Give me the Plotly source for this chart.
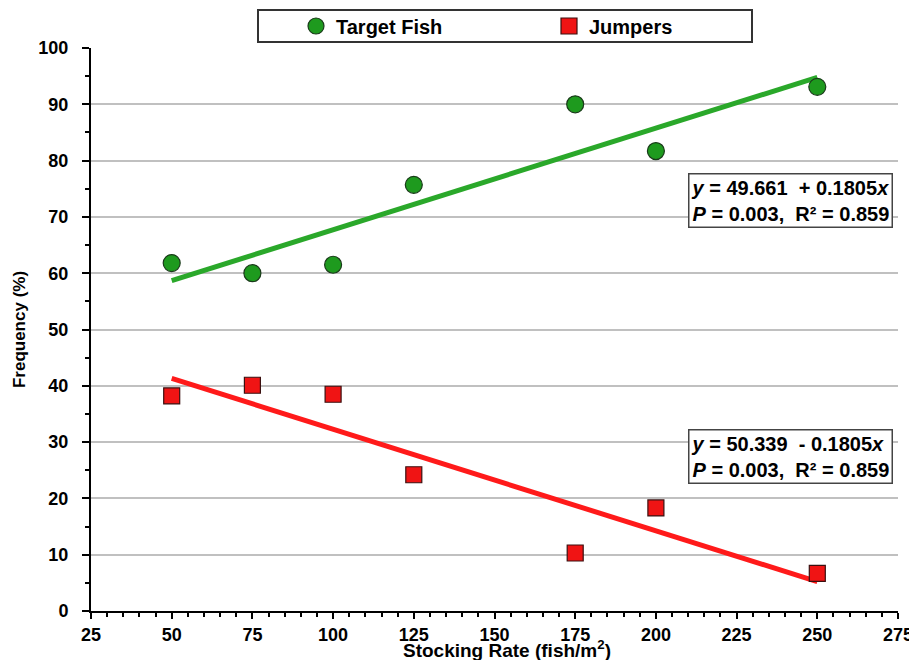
import plotly.graph_objects as go

stocking = [50, 75, 100, 125, 175, 200, 250]
target_fish = [61.8, 60.0, 61.5, 75.7, 90.0, 81.7, 93.1]
jumpers = [38.2, 40.1, 38.5, 24.2, 10.3, 18.3, 6.7]

fit_x = [50, 250]
target_fit = [49.661, 0.1805]   # intercept, slope
jumper_fit = [50.339, -0.1805]

x_ticks = [25, 50, 75, 100, 125, 150, 175, 200, 225, 250, 275]
y_ticks = [0, 10, 20, 30, 40, 50, 60, 70, 80, 90, 100]

FONT = "Liberation Sans, Arial, sans-serif"
GREEN = "#1e9a1e"
GREEN_LINE = "#2aa82a"
RED = "#f01414"
RED_LINE = "#ff1a1a"

# page body has an 8px margin; figure placed at (8, 8)
OFF = 8
W, H = 901, 652
# plot area in screen pixels: x 91..898, y 48..611
SX0, SX1, SY0, SY1 = 91, 898, 48, 611
L = SX0 - OFF
R = (OFF + W) - SX1
T = SY0 - OFF
B = (OFF + H) - SY1
PW, PH = SX1 - SX0, SY1 - SY0

def px(xs):
    return (xs - SX0) / PW

def py(ys):
    return (SY1 - ys) / PH

fig = go.Figure()

fig.add_trace(go.Scatter(
    x=fit_x, y=[target_fit[0] + target_fit[1] * v for v in fit_x],
    mode="lines", line=dict(color=GREEN_LINE, width=5), showlegend=False, hoverinfo="skip"))
fig.add_trace(go.Scatter(
    x=fit_x, y=[jumper_fit[0] + jumper_fit[1] * v for v in fit_x],
    mode="lines", line=dict(color=RED_LINE, width=5), showlegend=False, hoverinfo="skip"))

fig.add_trace(go.Scatter(
    x=stocking, y=target_fish, mode="markers", name="<b>Target Fish</b>",
    marker=dict(symbol="circle", size=17, color=GREEN, line=dict(color="#1a3a1a", width=1.2))))
fig.add_trace(go.Scatter(
    x=stocking, y=jumpers, mode="markers", name="<b>Jumpers</b>",
    marker=dict(symbol="square", size=16, color=RED, line=dict(color="#3a1010", width=1.2))))

axis_font = dict(family=FONT, size=18, color="black", weight="bold")

fig.update_xaxes(
    range=[25, 275], tickvals=x_ticks, ticktext=[str(t) for t in x_ticks],
    showline=True, linecolor="black", linewidth=2, ticks="outside", ticklen=6,
    tickwidth=2, tickcolor="black", showgrid=False, zeroline=False,
    minor=dict(dtick=5, ticks="outside", ticklen=4, tickcolor="black", tickwidth=1.5),
    tickfont=axis_font, ticklabeloverflow="allow", automargin=False,
)
fig.update_yaxes(
    range=[0, 100], tickvals=y_ticks, ticktext=[str(t) for t in y_ticks],
    showline=True, linecolor="black", linewidth=2, ticks="outside", ticklen=7,
    tickwidth=2, tickcolor="black", showgrid=True, gridcolor="#c0c0c0", gridwidth=2,
    zeroline=False, automargin=False, ticklabelstandoff=10,
    minor=dict(dtick=5, ticks="outside", ticklen=4, tickcolor="black", tickwidth=1.5, showgrid=False),
    tickfont=axis_font,
    title=dict(text="<b>Frequency (%)</b>", font=dict(family=FONT, size=17, color="black"), standoff=8),
)

# x-axis title
fig.add_annotation(
    xref="paper", yref="paper", x=px(507), y=py(649), xanchor="center", yanchor="middle",
    text="<b>Stocking Rate (fish/m<sup>2</sup>)</b>", showarrow=False,
    font=dict(family=FONT, size=19, color="black"))

ann_font = dict(family=FONT, size=20, color="black")
fig.add_annotation(
    xref="paper", yref="paper", x=px(893), y=py(200), xanchor="right", yanchor="middle",
    text="<b><i>y</i> = 49.661  + 0.1805<i>x</i><br><i>P</i> = 0.003,  R² = 0.859</b>",
    showarrow=False, align="left", font=ann_font, bordercolor="#444", borderwidth=1.5,
    borderpad=2, bgcolor="white")
fig.add_annotation(
    xref="paper", yref="paper", x=px(893), y=py(456), xanchor="right", yanchor="middle",
    text="<b><i>y</i> = 50.339  - 0.1805<i>x</i><br><i>P</i> = 0.003,  R² = 0.859</b>",
    showarrow=False, align="left", font=ann_font, bordercolor="#444", borderwidth=1.5,
    borderpad=2, bgcolor="white")

# legend box
fig.add_shape(type="rect", xref="paper", yref="paper",
              x0=px(258), x1=px(752), y0=py(42), y1=py(10),
              line=dict(color="#333", width=2), fillcolor="white", layer="below")

fig.update_layout(
    width=W, height=H,
    margin=dict(l=L, r=R, t=T, b=B, autoexpand=False),
    paper_bgcolor="white", plot_bgcolor="white",
    font=dict(family=FONT, color="black"),
    showlegend=True,
    legend=dict(orientation="h", x=px(296), xanchor="left",
                y=py(26), yanchor="middle",
                bgcolor="rgba(0,0,0,0)", borderwidth=0,
                font=dict(family=FONT, size=20, color="black"),
                entrywidth=208, entrywidthmode="pixels", itemwidth=30,
                traceorder="normal"),
)

fig.write_html("out.html")
